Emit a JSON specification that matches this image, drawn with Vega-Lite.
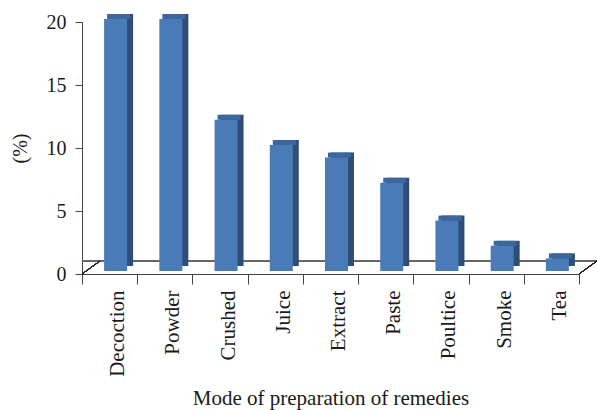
{
  "$schema": "https://vega.github.io/schema/vega-lite/v6.json",
  "width": 497,
  "height": 252,
  "autosize": {"type": "none"},
  "padding": {"left": 82, "top": 22, "right": 18, "bottom": 136},
  "background": "white",
  "config": {
    "view": {"stroke": null},
    "font": "Liberation Serif",
    "axis": {"labelFont": "Liberation Serif", "titleFont": "Liberation Serif", "labelColor": "#1a1a1a", "titleColor": "#1a1a1a", "titleFontWeight": "normal", "grid": false, "domainColor": "#444444", "tickColor": "#444444"}
  },
  "data": {
    "values": [
      {"mode": "Decoction", "pct": 20},
      {"mode": "Powder", "pct": 20},
      {"mode": "Crushed", "pct": 12},
      {"mode": "Juice", "pct": 10},
      {"mode": "Extract", "pct": 9},
      {"mode": "Paste", "pct": 7},
      {"mode": "Poultice", "pct": 4},
      {"mode": "Smoke", "pct": 2},
      {"mode": "Tea", "pct": 1}
    ]
  },
  "encoding": {
    "x": {
      "field": "mode", "type": "nominal", "sort": null,
      "scale": {"domain": ["Decoction", "Powder", "Crushed", "Juice", "Extract", "Paste", "Poultice", "Smoke", "Tea"], "paddingInner": 0, "paddingOuter": 0},
      "axis": {
        "title": "Mode of preparation of remedies",
        "labelAngle": -90, "labelAlign": "right", "labelBaseline": "middle",
        "labelFontSize": 21, "labelPadding": 6, "labelOffset": 8,
        "tickBand": "extent", "tickSize": 10,
        "titleFontSize": 21, "titleY": 130, "titleBaseline": "alphabetic"
      }
    },
    "y": {
      "field": "pct", "type": "quantitative",
      "scale": {"domain": [0, 20], "nice": false},
      "axis": {
        "title": "(%)", "values": [0, 5, 10, 15, 20],
        "labelFontSize": 20, "labelPadding": 9, "tickSize": 7,
        "titleFontSize": 20, "titleAngle": -90, "titleX": -62, "titleY": 126,
        "titleAlign": "center", "titleBaseline": "middle"
      }
    }
  },
  "layer": [
    {
      "mark": {"type": "rule", "color": "#666666", "strokeWidth": 1, "yOffset": -13, "xOffset": 18},
      "encoding": {"y": {"datum": 0}, "x": null}
    },
    {
      "mark": {"type": "rule", "color": "#222222", "strokeWidth": 1, "x2Offset": 18, "y2Offset": -13},
      "encoding": {
        "x": {"datum": "Decoction", "bandPosition": 0},
        "x2": {"datum": "Decoction", "bandPosition": 0},
        "y": {"datum": 0},
        "y2": {"datum": 0}
      }
    },
    {
      "mark": {"type": "rule", "color": "#222222", "strokeWidth": 1, "x2Offset": 18, "y2Offset": -13},
      "encoding": {
        "x": {"datum": "Tea", "bandPosition": 1},
        "x2": {"datum": "Tea", "bandPosition": 1},
        "y": {"datum": 0},
        "y2": {"datum": 0}
      }
    },
    {
      "mark": {"type": "bar", "width": 23, "color": "#2f4e77", "xOffset": 12, "yOffset": -8, "y2Offset": -8}
    },
    {
      "mark": {"type": "bar", "width": 23, "color": "#3d679c", "xOffset": 9, "yOffset": -8, "y2Offset": -3},
      "encoding": {"y2": {"field": "pct"}}
    },
    {
      "mark": {"type": "bar", "width": 23, "color": "#4a7bb6", "xOffset": 6, "yOffset": -3, "y2Offset": -3}
    }
  ]
}
